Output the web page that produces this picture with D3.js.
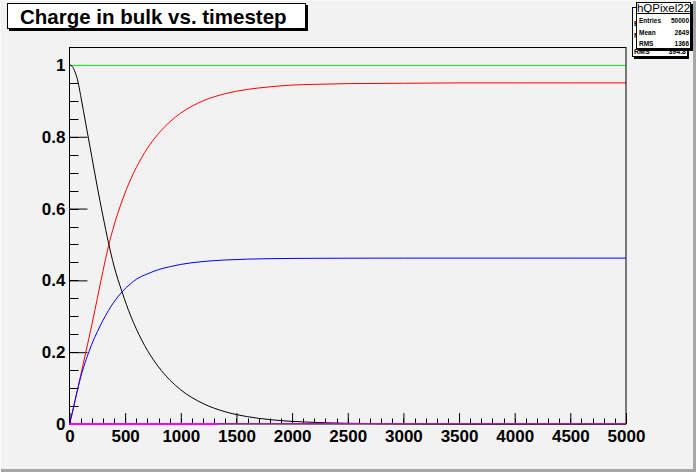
<!DOCTYPE html>
<html><head><meta charset="utf-8">
<script src="https://cdn.jsdelivr.net/npm/d3@7"></script>
<style>
html,body{margin:0;padding:0;background:#f2f2f2;}
svg{display:block;}
</style></head>
<body>
<svg id="c" width="696" height="472"></svg>
<script>
// ---- data ----
const timesteps = [0,25,50,75,100,150,200,250,300,350,400,472,550,600,700,800,900,1000,1200,1400,1600,1800,2000,2200,2500,3000,3500,4000,4500,5000];
const blackSeries = [1.0,0.996,0.98,0.955,0.915,0.83,0.745,0.66,0.58,0.505,0.44,0.368,0.301,0.265,0.205,0.159,0.123,0.095,0.057,0.034,0.0204,0.0122,0.0073,0.0044,0.002,0.0006,0,0,0,0];
const redSeries   = [0,0.03,0.065,0.10,0.135,0.205,0.275,0.35,0.425,0.495,0.553,0.621,0.682,0.714,0.768,0.809,0.841,0.866,0.90,0.92,0.932,0.939,0.944,0.946,0.948,0.949,0.95,0.95,0.95,0.95];
const blueSeries  = [0,0.032,0.066,0.099,0.13,0.18,0.222,0.257,0.288,0.316,0.34,0.368,0.391,0.403,0.418,0.43,0.438,0.4445,0.4525,0.4568,0.4592,0.4605,0.4611,0.4615,0.4618,0.462,0.462,0.462,0.462,0.462];
const greenT = [0,5000];
const greenSeries = [1,1];
const magentaT = [0,1330,5000];
const magentaSeries = [0,0,0];
const xTicks = [0,500,1000,1500,2000,2500,3000,3500,4000,4500,5000];
const yTicks = [0,0.2,0.4,0.6,0.8,1];
const yTickLabels = ["0","0.2","0.4","0.6","0.8","1"];
const titleText = "Charge in bulk vs. timestep";
const statsName = "hQPixel22";
const statsRows = [["Entries","50000"],["Mean","2649"],["RMS","1366"]];
const backStatsRow = ["RMS","394.8"];

// ---- layout ----
const svg = d3.select("#c");
const FONT = "'Liberation Sans', Arial, Helvetica, sans-serif";
const L = 69.5, R = 626, T = 47, B = 424;
const x = d3.scaleLinear().domain([0,5000]).range([L,R]);
const y = d3.scaleLinear().domain([0,1.05]).range([B,T]);

svg.append("rect").attr("width",696).attr("height",472).attr("fill","#f2f2f2");
// canvas bevel
svg.append("rect").attr("x",0).attr("y",469).attr("width",696).attr("height",3).attr("fill","#a6a6a6");
svg.append("rect").attr("x",693).attr("y",0).attr("width",3).attr("height",472).attr("fill","#a6a6a6");
svg.append("rect").attr("x",0).attr("y",0).attr("width",696).attr("height",1).attr("fill","#fafafa");
svg.append("rect").attr("x",0).attr("y",0).attr("width",1).attr("height",472).attr("fill","#fafafa");

// minor ticks
const g = svg.append("g");
const yMinor = d3.range(0,1.0501,0.05);
const xMinor = d3.range(0,5001,100);
g.selectAll(".ym").data(yMinor).join("line")
  .attr("x1",L).attr("x2",L+9).attr("y1",d=>Math.round(y(d))+0.5).attr("y2",d=>Math.round(y(d))+0.5)
  .attr("stroke","#000");
g.selectAll(".xm").data(xMinor).join("line")
  .attr("x1",d=>Math.round(x(d))+0.5).attr("x2",d=>Math.round(x(d))+0.5).attr("y1",B).attr("y2",B-5.5)
  .attr("stroke","#000");

// axes
const yAxis = d3.axisLeft(y).tickValues(yTicks).tickSizeInner(-18).tickSizeOuter(0).tickPadding(4)
  .tickFormat((d,i)=>yTickLabels[i]);
const gy = svg.append("g").attr("transform",`translate(${L},0)`).call(yAxis);
const xAxis = d3.axisBottom(x).tickValues(xTicks).tickSizeInner(-11).tickSizeOuter(0).tickPadding(6)
  .tickFormat(d=>String(d));
const gx = svg.append("g").attr("transform",`translate(0,${B})`).call(xAxis);
[gx,gy].forEach(a=>{
  a.select(".domain").remove();
  a.selectAll("text").attr("font-family",FONT).attr("font-weight","bold").attr("font-size",17).attr("fill","#000");
  a.selectAll("line").attr("stroke","#000");
});

// curves
const line = d3.line().x(d=>x(d[0])).y(d=>y(d[1])).curve(d3.curveMonotoneX);
const zip = (t,v)=>t.map((d,i)=>[d,v[i]]);
const plot = svg.append("g");
plot.append("path").datum(zip(greenT,greenSeries)).attr("d",d3.line().x(d=>x(d[0])).y(d=>Math.round(y(d[1]))+0.5))
  .attr("fill","none").attr("stroke","#00ff00").attr("stroke-width",1);
plot.append("path").datum(zip(timesteps,redSeries)).attr("d",line).attr("fill","none").attr("stroke","#ff0000").attr("stroke-width",1);
plot.append("path").datum(zip(timesteps,blueSeries)).attr("d",line).attr("fill","none").attr("stroke","#0000ff").attr("stroke-width",1);
plot.append("path").datum(zip(timesteps,blackSeries)).attr("d",line).attr("fill","none").attr("stroke","#000").attr("stroke-width",1);

// frame
svg.append("rect").attr("x",L).attr("y",T+0.5).attr("width",R-L).attr("height",B-T-0.5)
  .attr("fill","none").attr("stroke","#000").attr("stroke-width",1);

// magenta baseline (drawn above the frame)
const mag = zip(magentaT,magentaSeries);
const overlay = svg.append("g");
overlay.append("path").datum(mag).attr("d",d3.line().x(d=>x(d[0])).y(d=>y(d[1])-0.5))
  .attr("fill","none").attr("stroke","#d000d0").attr("stroke-width",1);
overlay.append("path").datum(mag.slice(0,2)).attr("d",d3.line().x(d=>x(d[0])).y(d=>y(d[1])))
  .attr("fill","none").attr("stroke","#ff00ff").attr("stroke-width",2);

// title box
svg.append("rect").attr("x",9).attr("y",5).attr("width",299).attr("height",26).attr("fill","#000");
svg.append("rect").attr("x",7.5).attr("y",3.5).attr("width",298).attr("height",25).attr("fill","#fff").attr("stroke","#000");
svg.append("text").attr("x",20).attr("y",24).attr("font-family",FONT).attr("font-weight","bold")
  .attr("font-size",20.5).attr("fill","#000").text(titleText);

// stats boxes (back one)
svg.append("rect").attr("x",634).attr("y",9).attr("width",55).attr("height",50).attr("fill","#000");
svg.append("rect").attr("x",632.5).attr("y",7.5).attr("width",55).attr("height",49).attr("fill","#fff").attr("stroke","#000");
svg.append("text").attr("x",634).attr("y",26).attr("font-family",FONT).attr("font-weight","bold").attr("font-size",7).text("E");
svg.append("text").attr("x",634).attr("y",38).attr("font-family",FONT).attr("font-weight","bold").attr("font-size",7).text("M");
svg.append("text").attr("x",634).attr("y",54).attr("font-family",FONT).attr("font-weight","bold").attr("font-size",7).text(backStatsRow[0]);
svg.append("text").attr("x",686).attr("y",54).attr("text-anchor","end").attr("font-family",FONT).attr("font-weight","bold").attr("font-size",7).text(backStatsRow[1]);
// front one
svg.append("rect").attr("x",638).attr("y",4).attr("width",55).attr("height",47).attr("fill","#000");
svg.append("rect").attr("x",636.5).attr("y",2.5).attr("width",54).attr("height",46).attr("fill","#fff").attr("stroke","#000");
svg.append("line").attr("x1",636.5).attr("x2",690.5).attr("y1",13.5).attr("y2",13.5).attr("stroke","#000");
svg.append("text").attr("x",663.5).attr("y",12).attr("text-anchor","middle").attr("font-family",FONT)
  .attr("font-size",11.5).text(statsName);
statsRows.forEach((r,i)=>{
  const yy = 23 + i*11.5;
  svg.append("text").attr("x",639).attr("y",yy).attr("font-family",FONT).attr("font-weight","bold").attr("font-size",6.5).text(r[0]);
  svg.append("text").attr("x",689).attr("y",yy).attr("text-anchor","end").attr("font-family",FONT).attr("font-weight","bold").attr("font-size",6.5).text(r[1]);
});
</script>
</body></html>
